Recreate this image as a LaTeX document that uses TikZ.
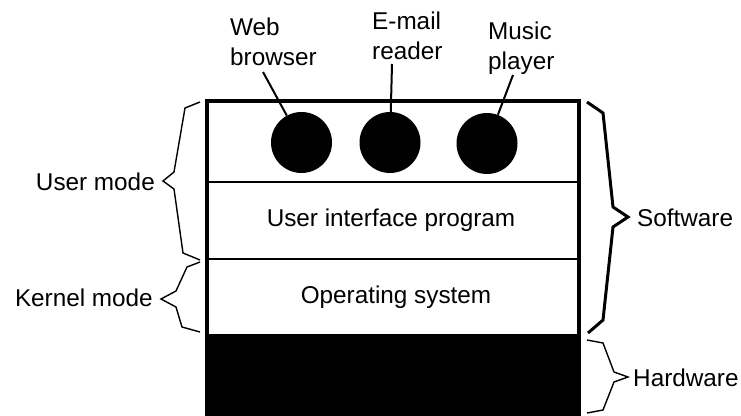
\documentclass[tikz,border=0pt]{standalone}
\usepackage{fontspec}
\setmainfont{Liberation Sans}
\begin{document}
\begin{tikzpicture}[x=1pt,y=-1pt,
  txt/.style={font=\fontsize{24.3}{29.5}\selectfont, inner sep=0pt},
  app/.style={circle, fill=black, minimum size=61pt, inner sep=0pt},
  brc/.style={line width=1.4pt, line join=miter},
  brcb/.style={line width=3pt, line join=miter}]
\useasboundingbox (0,0) rectangle (741,415);
% hardware block
\fill[black] (205,334) rectangle (580,430);
% layer dividers
\draw[line width=2pt] (207,182) -- (578.5,182);
\draw[line width=2pt] (207,259) -- (578.5,259);
% outer frame
\draw[line width=4pt] (207,430) -- (207,101) -- (578.5,101) -- (578.5,430);
% layer texts
\node[txt] (ui) at (391,220) {User interface program};
\node[txt] (os) at (396,297) {Operating system};
% applications
\node[app] (c1) at (301.5,142.5) {};
\node[app] (c2) at (390,142.5) {};
\node[app] (c3) at (487,143.5) {};
\node[txt, align=left, anchor=north west] (l1) at (230,18) {Web\\browser};
\node[txt, align=left, anchor=north west] (l2) at (372,12) {E-mail\\reader};
\node[txt, align=left, anchor=north west] (l3) at (488,22) {Music\\player};
\coordinate (p1) at (263,72);
\coordinate (p2) at (392,64);
\coordinate (p3) at (513,75);
\draw[line width=2pt] (p1) -- (c1);
\draw[line width=2pt] (p2) -- (c2);
\draw[line width=2pt] (p3) -- (c3);
% left braces
\coordinate (tu) at (163,181);
\draw[brc] (200,102) -- (185,108) -- (174,172) -- (tu) -- (174,189) -- (183,253) -- (200,260);
\node[txt, anchor=east] (um) at (155,182) {User mode};
\coordinate (tk) at (161,299);
\draw[brc] (200,262) -- (187,267) -- (176,291) -- (tk) -- (176,307) -- (182,327) -- (200,332);
\node[txt, anchor=east] (km) at (153,298) {Kernel mode};
% right braces
\coordinate (ts) at (628,217);
\draw[brcb] (587,102) -- (603,113) -- (613,207) -- (ts) -- (613,227) -- (603,320) -- (588,333);
\node[txt, anchor=west] (sw) at (637,218) {Software};
\coordinate (th) at (628,377);
\draw[brc] (587,340) -- (603,343) -- (614,372) -- (th) -- (614,382) -- (603,410) -- (587,413);
\node[txt, anchor=west] (hw) at (633,378) {Hardware};
\end{tikzpicture}
\end{document}
